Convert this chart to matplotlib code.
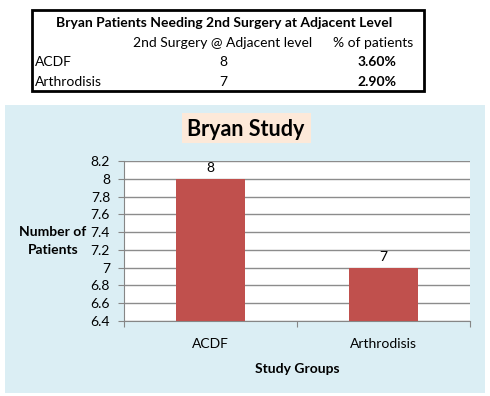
import matplotlib
matplotlib.use("Agg")
import matplotlib.pyplot as plt
from matplotlib.patches import Rectangle

plt.rcParams['font.family'] = ['Lato', 'DejaVu Sans']

# table data
table_title = "Bryan Patients Needing 2nd Surgery at Adjacent Level"
table_headers = ["2nd Surgery @ Adjacent level", "% of patients"]
row_names = ["ACDF", "Arthrodisis"]
row_counts = ["8", "7"]
row_pcts = ["3.60%", "2.90%"]

# chart data
groups = ["ACDF", "Arthrodisis"]
patients = [8, 7]
y_ticks = [6.4, 6.6, 6.8, 7, 7.2, 7.4, 7.6, 7.8, 8, 8.2]

W, H = 490, 396
fig = plt.figure(figsize=(W / 100, H / 100), dpi=100)
fig.patch.set_facecolor("white")

def fx(px):
    return px / W

def fy(py):
    return 1 - py / H

# ---- table at top ----
fig.patches.append(Rectangle((fx(32), fy(91)), fx(424) - fx(32), fy(10) - fy(91),
                             transform=fig.transFigure, fill=False,
                             edgecolor="black", linewidth=2))
fig.text(fx(224), fy(23), table_title, ha="center", va="center",
         fontsize=10, fontweight="bold")
fig.text(fx(223), fy(43), table_headers[0], ha="center", va="center", fontsize=10)
fig.text(fx(373), fy(43), table_headers[1], ha="center", va="center", fontsize=10)
for i, name in enumerate(row_names):
    yy = fy(62 + 20 * i)
    fig.text(fx(35), yy, name, ha="left", va="center", fontsize=10)
    fig.text(fx(223), yy, row_counts[i], ha="center", va="center", fontsize=10)
    fig.text(fx(377), yy, row_pcts[i], ha="center", va="center",
             fontsize=10, fontweight="bold")

# ---- chart area ----
fig.patches.append(Rectangle((fx(5), fy(393)), fx(485) - fx(5), fy(105) - fy(393),
                             transform=fig.transFigure, facecolor="#DBEEF4",
                             edgecolor="none", zorder=0))
fig.patches.append(Rectangle((fx(182), fy(143)), fx(311) - fx(182), fy(113) - fy(143),
                             transform=fig.transFigure, facecolor="#FDE9D9",
                             edgecolor="none", zorder=1))
fig.text(fx(246), fy(129), "Bryan Study", ha="center", va="center",
         fontsize=15.5, fontweight="bold", zorder=2)

ax = fig.add_axes([fx(124), fy(321), fx(470) - fx(124), fy(161) - fy(321)])
ax.set_zorder(5)
ax.set_facecolor("white")
x = list(range(len(groups)))
bars = ax.bar(x, patients, width=0.4, color="#C0504D", zorder=3)
ax.set_ylim(6.4, 8.2)
ax.set_xlim(-0.5, 1.5)
ax.set_yticks(y_ticks)
ax.set_yticklabels([f"{v:g}" for v in y_ticks], fontsize=10)
ax.yaxis.grid(True, color="#8C8C8C", linewidth=1)
ax.set_axisbelow(True)
ax.set_xticks([-0.5, 0.5, 1.5])
ax.set_xticklabels([])
ax.set_xticks(x, minor=True)
ax.set_xticklabels(groups, minor=True, fontsize=10)
ax.tick_params(axis="x", which="minor", length=0, pad=12)
ax.tick_params(axis="x", which="major", length=4, color="#868686")
ax.tick_params(axis="y", length=4, color="#868686", pad=6)
for s in ["top", "right"]:
    ax.spines[s].set_visible(False)
for s in ["left", "bottom"]:
    ax.spines[s].set_color("#868686")
for b, v in zip(bars, patients):
    ax.text(b.get_x() + b.get_width() / 2, v + 0.05, str(v), ha="center",
            va="bottom", fontsize=10)

fig.text(fx(53), fy(241), "Number of\nPatients", ha="center", va="center",
         fontsize=10, fontweight="bold", linespacing=1.5)
fig.text(fx(297), fy(369), "Study Groups", ha="center", va="center",
         fontsize=10, fontweight="bold")

fig.savefig("out.png", dpi=100)
